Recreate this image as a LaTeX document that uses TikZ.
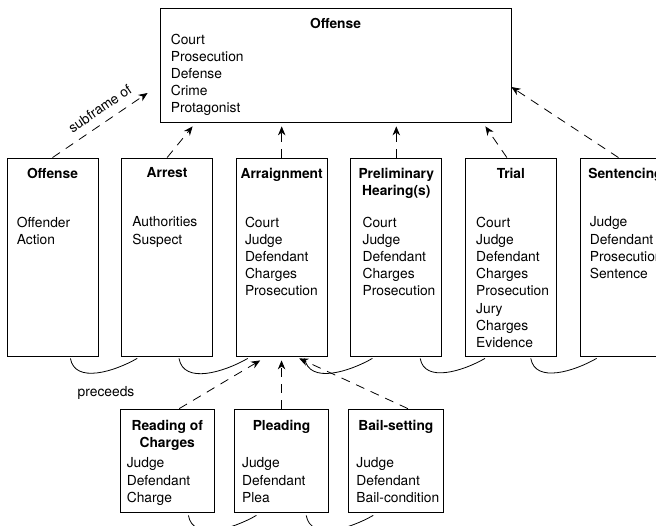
\documentclass[tikz,border=0pt]{standalone}
\usepackage{fontspec}
\setmainfont{TeX Gyre Heros}
\usetikzlibrary{
  arrows.meta, % for the Stealth arrow tips
  positioning % for relative placement of the frames
}
\newcommand{\framefont}{\fontsize{13.8pt}{17.2pt}\selectfont}
\tikzset{
  frame/.style={ % style for each frame box
    rectangle,draw,line width=0.8pt, % drawn as a thin rectangle
    inner sep=0pt, % no padding, the size is fixed below
    minimum width=91pt, minimum height=198pt, % every frame of the middle row has the same size
    node distance=22.8pt, % gap between neighbouring frames
  },
  subframe/.style={ % style for the frames of the bottom row
    frame, % inherit the frame style
    minimum width=94.5pt, minimum height=103pt,
    node distance=19pt,
  },
  title/.style={ % bold frame name
    font=\framefont\bfseries,align=center,inner sep=0pt,
  },
  roles/.style={ % list of frame elements
    font=\framefont,align=left,inner sep=0pt,
  },
  sub/.style={ % style for the subframe links
    -{Stealth[length=9pt,width=7.5pt]}, % filled arrow tip
    dash pattern=on 9pt off 7pt,line width=0.8pt,
  },
  prec/.style={ % style for the precedence links
    line width=0.8pt,
  },
}
\begin{document}
\begin{tikzpicture}[x=1pt,y=1pt]
\useasboundingbox (0,0) rectangle (656,-525);
% the big frame
\node[frame, minimum width=351pt, minimum height=114pt] (top) at (335.5,-65) {};
\node[title, below=10pt of top.north] (toptitle) {Offense};
\node[roles, below right=26pt and 11pt of top.north west] (toproles) {Court\\Prosecution\\Defense\\Crime\\Protagonist};
% middle row
\node[frame] (offense) at (52.5,-257) {};
\node[frame, right=of offense] (arrest) {};
\node[frame, right=of arrest] (arraign) {};
\node[frame, right=of arraign] (prelim) {};
\node[frame, right=of prelim] (trial) {};
\node[frame, right=of trial] (sentencing) {};
\node[title, below=10pt of offense.north] (offensetitle) {Offense};
\node[title, below=10pt of arrest.north] (arresttitle) {Arrest};
\node[title, below=10pt of arraign.north] (arraigntitle) {Arraignment};
\node[title, below=10pt of prelim.north] (prelimtitle) {Preliminary\\Hearing(s)};
\node[title, below=10pt of trial.north] (trialtitle) {Trial};
\node[title, below=10pt of sentencing.north] (sentencingtitle) {Sentencing};
\node[roles, below right=59pt and 10pt of offense.north west] (offenseroles) {Offender\\Action};
\node[roles, below right=59pt and 11pt of arrest.north west] (arrestroles) {Authorities\\Suspect};
\node[roles, below right=59pt and 9pt of arraign.north west] (arraignroles) {Court\\Judge\\Defendant\\Charges\\Prosecution};
\node[roles, below right=59pt and 12pt of prelim.north west] (prelimroles) {Court\\Judge\\Defendant\\Charges\\Prosecution};
\node[roles, below right=59pt and 11pt of trial.north west] (trialroles) {Court\\Judge\\Defendant\\Charges\\Prosecution\\Jury\\Charges\\Evidence};
\node[roles, below right=59pt and 10pt of sentencing.north west] (sentencingroles) {Judge\\Defendant\\Prosecution\\Sentence};
% bottom row
\node[subframe] (reading) at (167.25,-460.5) {};
\node[subframe, right=of reading] (pleading) {};
\node[subframe, right=of pleading] (bail) {};
\node[title, below=11pt of reading.north] (readingtitle) {Reading of\\Charges};
\node[title, below=11pt of pleading.north] (pleadingtitle) {Pleading};
\node[title, below=11pt of bail.north] (bailtitle) {Bail-setting};
\node[roles, below right=49pt and 7pt of reading.north west] (readingroles) {Judge\\Defendant\\Charge};
\node[roles, below right=49pt and 8pt of pleading.north west] (pleadingroles) {Judge\\Defendant\\Plea};
\node[roles, below right=49pt and 8pt of bail.north west] (bailroles) {Judge\\Defendant\\Bail-condition};
% subframe links
\draw[sub] (offense.north) -- ([xshift=-12pt,yshift=-28pt]top.west) node[pos=0.58, sloped, above=5pt, font=\framefont] {subframe of};
\draw[sub] (arrest.north) -- ([xshift=33pt,yshift=-4pt]top.south west);
\draw[sub, shorten >=4pt] (arraign.north) -- (arraign.north |- top.south);
\draw[sub, shorten >=4pt] (prelim.north) -- (prelim.north |- top.south);
\draw[sub] ([xshift=-4pt]trial.north) -- ([xshift=-26pt,yshift=-4pt]top.south east);
\draw[sub] ([xshift=-7pt]sentencing.north) -- ([yshift=-22pt]top.east);
\draw[sub] ([xshift=12pt]reading.north) -- ([xshift=-21.5pt,yshift=-4pt]arraign.south);
\draw[sub, shorten >=4pt] (pleading.north) -- (pleading.north |- arraign.south);
\draw[sub] ([xshift=12pt]bail.north) -- ([xshift=17.5pt,yshift=-2pt]arraign.south);
% precedence links
\draw[prec] ([xshift=-28pt,yshift=-2pt]offense.south east) to[out=-80,in=-150] ([xshift=16pt,yshift=-2pt]arrest.south west);
\draw[prec] ([xshift=-34pt,yshift=-2pt]arrest.south east) to[out=-80,in=-150] ([xshift=12pt,yshift=-2pt]arraign.south west);
\draw[prec] ([xshift=-23pt,yshift=-2pt]arraign.south east) to[out=-80,in=-150] ([xshift=22pt,yshift=-2pt]prelim.south west);
\draw[prec] ([xshift=-22pt,yshift=-2pt]prelim.south east) to[out=-80,in=-150] ([xshift=20pt,yshift=-2pt]trial.south west);
\draw[prec] ([xshift=-26pt,yshift=-2pt]trial.south east) to[out=-80,in=-150] ([xshift=17pt,yshift=-2pt]sentencing.south west);
\draw[prec] ([xshift=-26.5pt,yshift=-3pt]reading.south east) to[out=-80,in=-150] ([xshift=22.5pt,yshift=-3pt]pleading.south west);
\draw[prec] ([xshift=-23pt,yshift=-3pt]pleading.south east) to[out=-80,in=-150] ([xshift=25pt,yshift=-3pt]bail.south west);
\node[roles] (precedes) at (106,-393) {preceeds};
\end{tikzpicture}
\end{document}
